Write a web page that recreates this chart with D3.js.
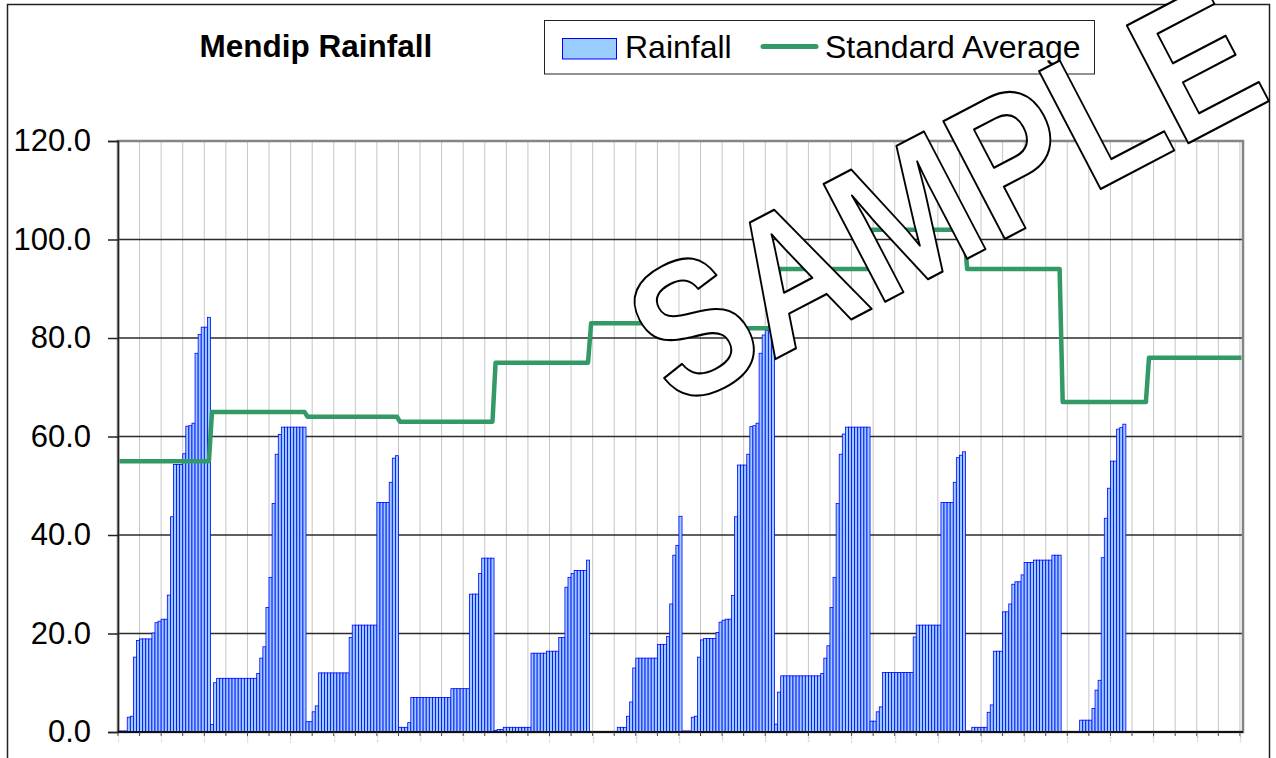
<!DOCTYPE html>
<meta charset="utf-8">
<style>

body {
  margin: 0;
  background: #fff;
}

svg {
  display: block;
  font-family: "Liberation Sans", Arial, Helvetica, sans-serif;
}

.grid-y line {
  stroke: #2b2b2b;
  stroke-width: 1.3px;
}

.grid-x line {
  stroke: #c6c6c6;
  stroke-width: 1px;
}

.bars rect {
  fill: #99ccff;
  stroke: #0000ff;
  stroke-width: 0.8px;
}

.y-axis text {
  font-size: 31px;
  fill: #000;
}

.y-axis line,
.y-axis path {
  stroke: #222;
  stroke-width: 1.5px;
}

</style>
<svg width="1276" height="758"></svg>
<script src="https://d3js.org/d3.v7.min.js"></script>
<script>

// water year, April to March
var months = ["Apr", "May", "Jun", "Jul", "Aug", "Sep", "Oct", "Nov", "Dec", "Jan", "Feb", "Mar"];
var monthDays = [30, 31, 30, 31, 31, 30, 31, 30, 31, 31, 28, 31];
var standardAverage = [55, 65, 64, 63, 75, 83, 82, 94, 102, 94, 67, 76];

// cumulative rainfall for each day of the month (mm)
var rainApr = [0.2, 0.2, 0.2, 3.0, 3.2, 15.2, 18.6, 18.9, 18.9, 18.9, 18.9, 20.1, 22.2, 22.5, 22.9, 22.9, 27.8, 43.7, 54.3, 54.3, 54.3, 56.5, 62.1, 62.2, 62.7, 76.9, 80.7, 82.2, 82.2, 84.2];
var rainMay = [1.5, 10.0, 10.9, 10.9, 10.9, 10.9, 10.9, 10.9, 10.9, 10.9, 10.9, 10.9, 10.9, 10.9, 10.9, 11.9, 15.0, 17.3, 25.3, 31.4, 46.4, 56.4, 60.4, 61.9, 61.9, 61.9, 61.9, 61.9, 61.9, 61.9, 61.9];
var rainJun = [2.1, 2.1, 4.1, 5.3, 12.0, 12.0, 12.0, 12.0, 12.0, 12.0, 12.0, 12.0, 12.0, 12.0, 19.2, 21.7, 21.7, 21.7, 21.7, 21.7, 21.7, 21.7, 21.7, 46.6, 46.6, 46.6, 46.6, 50.7, 55.6, 56.1];
var rainJul = [0.95, 0.95, 0.95, 1.9, 7.0, 7.0, 7.0, 7.0, 7.0, 7.0, 7.0, 7.0, 7.0, 7.0, 7.0, 7.0, 7.0, 8.8, 8.8, 8.8, 8.8, 8.8, 8.8, 28.0, 28.0, 28.0, 32.2, 35.3, 35.3, 35.3, 35.3];
var rainAug = [0.3, 0.5, 0.5, 0.95, 0.95, 0.95, 0.95, 0.95, 0.95, 0.95, 0.95, 0.95, 16.0, 16.0, 16.0, 16.0, 16.0, 16.4, 16.4, 16.4, 16.4, 19.2, 19.2, 29.4, 31.4, 32.2, 32.8, 32.8, 32.8, 32.8, 34.9];
var rainSep = [0, 0, 0, 0, 0, 0, 0, 0, 0, 0.95, 0.95, 0.95, 3.2, 6.1, 13.0, 15.0, 15.0, 15.0, 15.0, 15.0, 15.0, 15.0, 17.8, 17.8, 17.8, 19.4, 26.0, 35.9, 37.9, 43.8];
var rainOct = [0.2, 0.2, 0.2, 3.0, 3.2, 15.2, 18.7, 19.0, 19.0, 19.0, 19.0, 20.2, 22.3, 22.7, 22.9, 22.9, 27.7, 43.7, 54.2, 54.2, 54.2, 56.4, 62.0, 62.2, 62.7, 76.9, 80.6, 81.5, 81.5, 84.2, 1.6];
var rainNov = [8.1, 11.4, 11.4, 11.4, 11.4, 11.4, 11.4, 11.4, 11.4, 11.4, 11.4, 11.4, 11.4, 11.4, 11.9, 15.0, 17.5, 25.3, 31.4, 46.4, 56.4, 60.5, 61.9, 61.9, 61.9, 61.9, 61.9, 61.9, 61.9, 61.9];
var rainDec = [2.2, 2.2, 4.1, 5.1, 12.1, 12.1, 12.1, 12.1, 12.1, 12.1, 12.1, 12.1, 12.1, 12.1, 19.3, 21.7, 21.7, 21.7, 21.7, 21.7, 21.7, 21.7, 21.7, 46.6, 46.6, 46.6, 46.6, 50.7, 55.7, 56.2, 56.9];
var rainJan = [0.2, 0.2, 0.95, 0.95, 0.95, 0.95, 0.95, 4.0, 5.5, 16.4, 16.4, 16.4, 24.4, 24.4, 26.0, 30.0, 30.5, 30.5, 31.9, 34.4, 34.4, 34.4, 34.9, 34.9, 34.9, 34.9, 34.9, 34.9, 35.9, 35.9, 35.9];
var rainFeb = [0, 0, 0, 0, 0, 0, 2.4, 2.4, 2.4, 2.4, 4.8, 8.5, 10.5, 35.4, 43.4, 49.5, 55.0, 55.0, 61.5, 61.8, 62.5];
var rainMar = [];

var rainfall = [rainApr, rainMay, rainJun, rainJul, rainAug, rainSep, rainOct, rainNov, rainDec, rainJan, rainFeb, rainMar];

var yTicks = [0, 20, 40, 60, 80, 100, 120];
// date labels every 14 days along the bottom (tiny in the original)
var xTickLabels = ["01-Apr", "15-Apr", "29-Apr", "13-May", "27-May", "10-Jun", "24-Jun", "08-Jul", "22-Jul", "05-Aug", "19-Aug", "02-Sep", "16-Sep", "30-Sep", "14-Oct", "28-Oct", "11-Nov", "25-Nov", "09-Dec", "23-Dec", "06-Jan", "20-Jan", "03-Feb", "17-Feb", "03-Mar", "17-Mar", "31-Mar"];

var svg = d3.select("svg"),
  width = +svg.attr("width"),
  height = +svg.attr("height");

var plot = { left: 118, right: 1243, top: 141, bottom: 732 };

// one entry per day
var days = [];
monthDays.forEach(function(n, m) {
  for (var d = 0; d < n; d++) {
    var v = rainfall[m][d];
    days.push({ i: days.length, month: m, rain: v == null ? null : v, avg: standardAverage[m] });
  }
});

var x = d3.scaleBand()
  .domain(d3.range(days.length))
  .range([plot.left, plot.right])
  .padding(0);

var y = d3.scaleLinear()
  .domain([0, 120])
  .range([plot.bottom, plot.top]);

// outer chart border
svg.append("rect")
  .attr("x", 7.5)
  .attr("y", 4.5)
  .attr("width", 1262)
  .attr("height", 800)
  .attr("fill", "#fff")
  .attr("stroke", "#222")
  .attr("stroke-width", 1.5);

// weekly vertical gridlines
svg.append("g")
  .attr("class", "grid-x")
  .selectAll("line")
  .data(days.filter(function(d) { return d.i > 0 && d.i % 7 === 0; }))
  .enter().append("line")
  .attr("x1", function(d) { return x(d.i); })
  .attr("x2", function(d) { return x(d.i); })
  .attr("y1", plot.top)
  .attr("y2", plot.bottom);

svg.append("g")
  .attr("class", "grid-y")
  .selectAll("line")
  .data(yTicks.slice(1, -1))
  .enter().append("line")
  .attr("x1", plot.left)
  .attr("x2", plot.right)
  .attr("y1", function(d) { return y(d); })
  .attr("y2", function(d) { return y(d); });

// plot area border (grey, like excel)
svg.append("rect")
  .attr("x", plot.left)
  .attr("y", plot.top)
  .attr("width", plot.right - plot.left)
  .attr("height", plot.bottom - plot.top)
  .attr("fill", "none")
  .attr("stroke", "#858585")
  .attr("stroke-width", 2.5);

// rainfall bars
svg.append("g")
  .attr("class", "bars")
  .selectAll("rect")
  .data(days.filter(function(d) { return d.rain > 0; }))
  .enter().append("rect")
  .attr("x", function(d) { return x(d.i); })
  .attr("width", x.bandwidth())
  .attr("y", function(d) { return y(d.rain); })
  .attr("height", function(d) { return y(0) - y(d.rain); });

// standard average line
var avgLine = d3.line()
  .x(function(d) { return x(d.i) + x.bandwidth() / 2; })
  .y(function(d) { return y(d.avg); });

svg.append("path")
  .datum(days)
  .attr("d", avgLine)
  .attr("fill", "none")
  .attr("stroke", "#339966")
  .attr("stroke-width", 4.5)
  .attr("stroke-linejoin", "round");

// y axis
svg.append("g")
  .attr("class", "y-axis")
  .attr("transform", "translate(" + plot.left + ",0)")
  .call(d3.axisLeft(y)
    .tickValues(yTicks)
    .tickFormat(d3.format(".1f"))
    .tickSize(10)
    .tickPadding(17));

svg.select(".y-axis").selectAll("text").attr("font-family", null).attr("font-size", null);

// x axis
svg.append("line")
  .attr("x1", plot.left)
  .attr("x2", plot.right)
  .attr("y1", plot.bottom)
  .attr("y2", plot.bottom)
  .attr("stroke", "#111")
  .attr("stroke-width", 2);

svg.append("g")
  .selectAll("line")
  .data(days.filter(function(d) { return d.i % 7 === 0; }))
  .enter().append("line")
  .attr("x1", function(d) { return x(d.i); })
  .attr("x2", function(d) { return x(d.i); })
  .attr("y1", plot.bottom)
  .attr("y2", plot.bottom + 4)
  .attr("stroke", "#444");

svg.append("g")
  .selectAll("text")
  .data(xTickLabels)
  .enter().append("text")
  .attr("transform", function(d, k) { return "translate(" + x(k * 14) + "," + (plot.bottom + 3) + ") rotate(-90)"; })
  .attr("text-anchor", "end")
  .attr("dy", "0.35em")
  .attr("font-size", 2.4)
  .attr("fill", "#777")
  .text(function(d) { return d; });

// title
svg.append("text")
  .attr("x", 316)
  .attr("y", 57)
  .attr("text-anchor", "middle")
  .attr("font-size", 31.5)
  .attr("font-weight", "bold")
  .text("Mendip Rainfall");

// legend
var legend = svg.append("g");

legend.append("rect")
  .attr("x", 544.5)
  .attr("y", 20.5)
  .attr("width", 550)
  .attr("height", 53.5)
  .attr("fill", "#fff")
  .attr("stroke", "#222")
  .attr("stroke-width", 1);

legend.append("rect")
  .attr("x", 562.5)
  .attr("y", 38.5)
  .attr("width", 54)
  .attr("height", 20.5)
  .attr("fill", "#99ccff")
  .attr("stroke", "#0000ff")
  .attr("stroke-width", 1);

legend.append("text")
  .attr("x", 625)
  .attr("y", 58)
  .attr("font-size", 32)
  .text("Rainfall");

legend.append("line")
  .attr("x1", 763)
  .attr("x2", 816)
  .attr("y1", 46.5)
  .attr("y2", 46.5)
  .attr("stroke", "#339966")
  .attr("stroke-width", 5)
  .attr("stroke-linecap", "round");

legend.append("text")
  .attr("x", 825)
  .attr("y", 58)
  .attr("font-size", 32)
  .text("Standard Average");

// watermark
svg.append("text")
  .attr("transform", "translate(676,411) rotate(-27.6) scale(0.84,1)")
  .attr("font-size", 193)
  .attr("font-weight", "bold")
  .attr("fill", "#fff")
  .attr("stroke", "#000")
  .attr("stroke-width", 2.2)
  .attr("stroke-linejoin", "round")
  .text("SAMPLE");

</script>
